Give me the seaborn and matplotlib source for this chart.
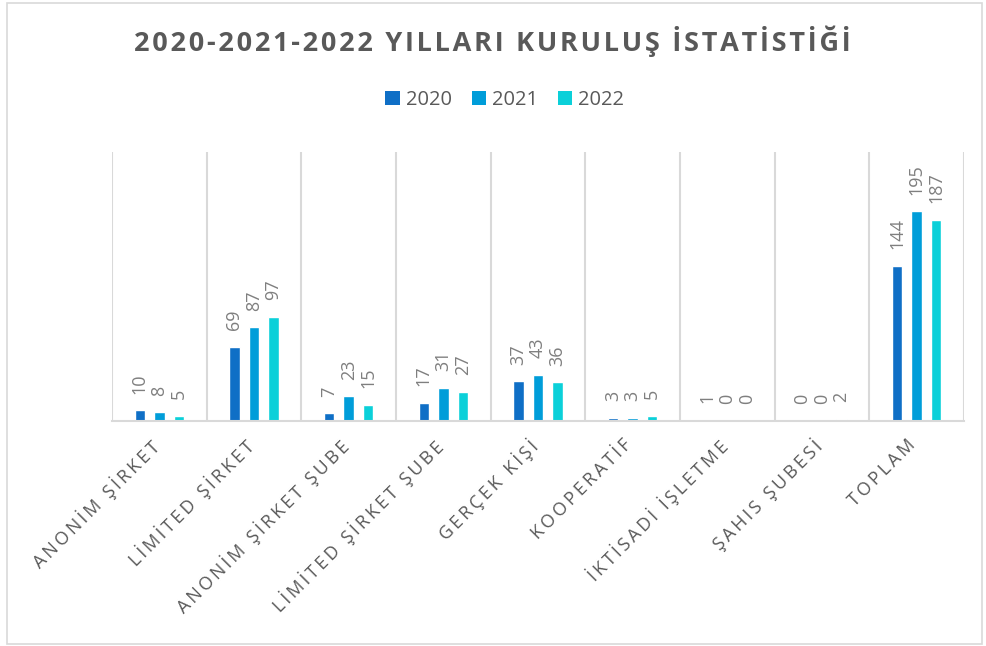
import matplotlib
matplotlib.use("Agg")
import matplotlib.pyplot as plt
import matplotlib.transforms as mtransforms
import seaborn as sns
import pandas as pd
from matplotlib import font_manager
from matplotlib.patches import Rectangle, Patch

categories = ["ANONİM ŞİRKET", "LİMİTED ŞİRKET", "ANONİM ŞİRKET ŞUBE",
              "LİMİTED ŞİRKET ŞUBE", "GERÇEK KİŞİ", "KOOPERATİF",
              "İKTİSADİ İŞLETME", "ŞAHIS ŞUBESİ", "TOPLAM"]
years = ["2020", "2021", "2022"]
v2020 = [10, 69, 7, 17, 37, 3, 1, 0, 144]
v2021 = [8, 87, 23, 31, 43, 3, 0, 0, 195]
v2022 = [5, 97, 15, 27, 36, 5, 0, 2, 187]
colors = ["#0F6FC6", "#009DD9", "#0BD0D9"]
title = "2020-2021-2022 YILLARI KURULUŞ İSTATİSTİĞİ"

df = pd.DataFrame({
    "cat": categories * 3,
    "year": [y for y in years for _ in categories],
    "val": v2020 + v2021 + v2022,
})

sns.set_theme(style="white")
avail = {f.name for f in font_manager.fontManager.ttflist}
main_font = "Open Sans" if "Open Sans" in avail else "DejaVu Sans"
plt.rcParams["font.family"] = [main_font, "DejaVu Sans"]

def spaced(s, sep="\u2009"):
    return sep.join(list(s))

fig = plt.figure(figsize=(9.86, 6.46), dpi=100)
ax = fig.add_axes([112/986, 1-421/646, (964-112)/986, (421-152)/646])

sns.barplot(data=df, x="cat", y="val", hue="year", palette=colors,
            width=0.62, gap=0.47, ax=ax, legend=False, saturation=1)

ax.set_ylim(0, 250)
ax.set_xlim(-0.5, len(categories)-0.5)
ax.set_yticks([])
ax.set_xlabel("")
ax.set_ylabel("")
for s in ["top", "right", "left"]:
    ax.spines[s].set_visible(False)
ax.spines["bottom"].set_color("#d9d9d9")
ax.spines["bottom"].set_linewidth(1.5)

for i in range(len(categories)+1):
    ax.axvline(i-0.5, color="#d9d9d9", lw=1.5, zorder=0)

for cont in ax.containers:
    ax.bar_label(cont, labels=[f"{int(v)}" for v in cont.datavalues],
                 rotation=90, padding=12, color="#7f7f7f", fontsize=13,
                 family=[main_font, "DejaVu Sans"])

ax.set_xticks(range(len(categories)))
ax.set_xticklabels([spaced(c) for c in categories], rotation=45, ha="right",
                   rotation_mode="anchor", color="#595959", fontsize=13)
ax.tick_params(axis="x", length=0, pad=13)
offset = mtransforms.ScaledTranslation(-10/100, 3/100, fig.dpi_scale_trans)
for lab in ax.get_xticklabels():
    lab.set_transform(lab.get_transform() + offset)

fig.text(0.499, 0.936, spaced(title, "\u200a"), ha="center", va="center",
         fontsize=19.5, fontweight="bold", color="#595959")

handles = [Patch(facecolor=c, edgecolor="none") for c in colors]
fig.legend(handles, years, loc="center", bbox_to_anchor=(0.512, 0.845),
           ncol=3, frameon=False, fontsize=14.5, handlelength=0.7,
           handleheight=0.7, handletextpad=0.3, columnspacing=1.0,
           labelcolor="#595959")

fig.add_artist(Rectangle((7/986, 1-644/646), (982-7)/986, (644-3)/646,
                         transform=fig.transFigure, fill=False,
                         edgecolor="#d9d9d9", lw=1.2))

fig.savefig("out.png", dpi=100, facecolor="white")
